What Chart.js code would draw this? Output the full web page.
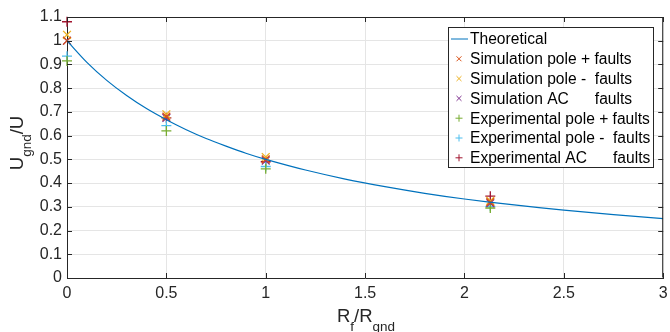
<!DOCTYPE html>
<html>
<head>
<meta charset="utf-8">
<script src="https://cdn.jsdelivr.net/npm/chart.js@4"></script>
<style>
  html, body { margin: 0; padding: 0; background: #ffffff; }
  #wrap { width: 670px; height: 332px; }
</style>
</head>
<body>
<div id="wrap"><canvas id="myChart" width="670" height="332"></canvas></div>
<script>
// values
var ratioX = [0, 0.5, 1, 2.13];

var simPolePlus  = [1.0, 0.68, 0.50, 0.32];
var simPoleMinus = [1.025, 0.69, 0.51, 0.325];
var simAC        = [1.0, 0.675, 0.495, 0.315];
var expPolePlus  = [0.915, 0.62, 0.46, 0.295];
var expPoleMinus = [0.935, 0.642, 0.47, 0.302];
var expAC        = [1.08, 0.675, 0.49, 0.345];

// theoretical curve
var theoX = [0, 0.1, 0.2, 0.3, 0.4, 0.5, 0.6, 0.7, 0.8, 0.9, 1, 1.2, 1.4, 1.6, 1.8, 2, 2.25, 2.5, 2.75, 3];
var theoY = [1, 0.909, 0.833, 0.769, 0.714, 0.667, 0.625, 0.588, 0.556, 0.526, 0.5,
             0.455, 0.417, 0.385, 0.357, 0.333, 0.308, 0.286, 0.267, 0.25];

var xTickLabels = ['0', '0.5', '1', '1.5', '2', '2.5', '3'];
var yTickLabels = ['0', '0.1', '0.2', '0.3', '0.4', '0.5', '0.6', '0.7', '0.8', '0.9', '1', '1.1'];

var seriesNames = ['Simulation pole + faults', 'Simulation pole -  faults', 'Simulation AC      faults',
                   'Experimental pole + faults', 'Experimental pole -  faults', 'Experimental AC      faults'];

function toPoints(xs, ys)
{
    var pts = [];
    for (var i = 0; i < xs.length; i++) {
        pts.push({x: xs[i], y: ys[i]});
    }
    return pts;
}

function markerSet(label, ys, color, style)
{
    return {
        label: label,
        data: toPoints(ratioX, ys),
        showLine: false,
        clip: false,
        borderColor: color,
        backgroundColor: color,
        pointStyle: style,
        pointRadius: style == 'crossRot' ? 5.5 : 5,
        pointBorderWidth: 1.3,
        pointHoverRadius: 5
    };
}

var FONT = "'Liberation Sans', Arial, sans-serif";

// axis titles with subscripts, and the boxed legend inside the plot
var extrasPlugin = {
    id: 'extras',
    afterDraw: function(chart)
    {
        var ctx = chart.ctx;
        var area = chart.chartArea;
        ctx.save();

        // box
        ctx.strokeStyle = '#262626';
        ctx.lineWidth = 1;
        ctx.beginPath();
        ctx.moveTo(area.left + 0.5, area.top + 0.5);
        ctx.lineTo(area.right - 0.5, area.top + 0.5);
        ctx.lineTo(area.right - 0.5, area.bottom - 0.5);
        ctx.stroke();

        // tick marks inside (matlab style)
        var xs = chart.scales.x, ys = chart.scales.y;
        ctx.beginPath();
        xs.ticks.forEach(function(t) {
            var px = Math.round(xs.getPixelForValue(t.value)) + 0.5;
            ctx.moveTo(px, area.bottom); ctx.lineTo(px, area.bottom - 5);
            ctx.moveTo(px, area.top); ctx.lineTo(px, area.top + 5);
        });
        ys.ticks.forEach(function(t) {
            var py = Math.round(ys.getPixelForValue(t.value)) + 0.5;
            ctx.moveTo(area.left, py); ctx.lineTo(area.left + 5, py);
            ctx.moveTo(area.right, py); ctx.lineTo(area.right - 5, py);
        });
        ctx.stroke();

        ctx.fillStyle = '#262626';
        ctx.textBaseline = 'alphabetic';
        ctx.textAlign = 'left';
        var big = '18.5px ' + FONT, small = '13.5px ' + FONT;

        // x title: R_f/R_gnd (cut at the bottom like the original)
        var parts = [['R', big, 0], ['f', small, 9], ['/R', big, 0], ['gnd', small, 9]];
        drawParts(ctx, parts, 366, 322);

        // y title: U_gnd/U, rotated
        ctx.save();
        ctx.translate(23, 143);
        ctx.rotate(-Math.PI / 2);
        drawParts(ctx, [['U', big, 0], ['gnd', small, 8], ['/U', big, 0]], 0, 0);
        ctx.restore();

        // legend
        var lx = 448.5, ly = 27.5, lw = 205, lh = 140;
        ctx.fillStyle = '#ffffff';
        ctx.fillRect(lx, ly, lw, lh);
        ctx.strokeStyle = '#262626';
        ctx.strokeRect(lx, ly, lw, lh);
        ctx.font = '15.6px ' + FONT;
        ctx.textBaseline = 'middle';
        var sets = chart.data.datasets;
        for (var i = 0; i < sets.length; i++) {
            var cy = 39 + i * 19.8;
            var ds = sets[i];
            ctx.strokeStyle = ds.borderColor;
            ctx.lineWidth = 1;
            if (ds.pointStyle === false) {
                ctx.beginPath();
                ctx.moveTo(451, cy); ctx.lineTo(468, cy);
                ctx.stroke();
            } else {
                Chart.helpers.drawPoint(ctx, {pointStyle: ds.pointStyle, radius: 3.5, borderWidth: 1}, 459, cy);
            }
            ctx.fillStyle = '#000000';
            ctx.fillText(ds.label, 470, cy + 1);
        }
        ctx.restore();
    }
};

function drawParts(ctx, parts, cx, baseY)
{
    var total = 0;
    parts.forEach(function(p) { ctx.font = p[1]; total += ctx.measureText(p[0]).width; });
    var x = cx - total / 2;
    parts.forEach(function(p) {
        ctx.font = p[1];
        ctx.fillText(p[0], x, baseY + p[2]);
        x += ctx.measureText(p[0]).width;
    });
}

function buildChart()
{
    var ctxL = document.getElementById('myChart').getContext('2d');
    var datasets = [{
        label: 'Theoretical',
        data: toPoints(theoX, theoY),
        showLine: true,
        borderColor: '#0072BD',
        backgroundColor: '#0072BD',
        borderWidth: 1.2,
        pointRadius: 0,
        pointStyle: false,
        tension: 0.3
    },
    markerSet(seriesNames[0], simPolePlus, '#D95319', 'crossRot'),
    markerSet(seriesNames[1], simPoleMinus, '#EDB120', 'crossRot'),
    markerSet(seriesNames[2], simAC, '#7E2F8E', 'crossRot'),
    markerSet(seriesNames[3], expPolePlus, '#77AC30', 'cross'),
    markerSet(seriesNames[4], expPoleMinus, '#4DBEEE', 'cross'),
    markerSet(seriesNames[5], expAC, '#A2142F', 'cross')];

    var myChart = new Chart(ctxL, {
        type: 'scatter',
        data: { datasets: datasets },
        options: {
            responsive: false,
            animation: false,
            layout: { padding: { top: 17, right: 5, left: 0, bottom: 0 } },
            plugins: { legend: { display: false }, tooltip: { enabled: false } },
            scales: {
                x: {
                    type: 'linear', min: 0, max: 3,
                    ticks: {
                        stepSize: 0.5, color: '#262626', padding: 6,
                        font: { family: FONT, size: 16 },
                        maxRotation: 0,
                        callback: function(v, i) { return xTickLabels[i]; }
                    },
                    grid: { color: '#e5e5e5', drawTicks: false },
                    border: { color: '#262626' },
                    afterFit: function(s) { s.height = 54; s.paddingLeft = 0; s.paddingRight = 0; }
                },
                y: {
                    type: 'linear', min: 0, max: 1.1,
                    ticks: {
                        stepSize: 0.1, color: '#262626', padding: 5,
                        font: { family: FONT, size: 16 },
                        callback: function(v, i) { return yTickLabels[i]; }
                    },
                    grid: { color: '#e5e5e5', drawTicks: false },
                    border: { color: '#262626' },
                    afterFit: function(s) { s.width = 67; s.paddingTop = 0; s.paddingBottom = 0; }
                }
            }
        },
        plugins: [extrasPlugin]
    });
}

buildChart();
</script>
</body>
</html>
